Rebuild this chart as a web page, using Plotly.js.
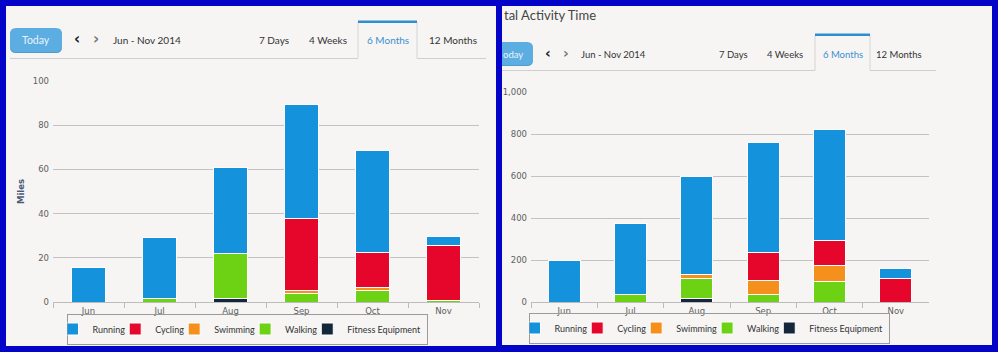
<!DOCTYPE html>
<html>
<head>
<meta charset="utf-8">
<script src="https://cdn.plot.ly/plotly-3.0.1.min.js"></script>
<style>html,body{margin:0;padding:0;background:#0404c8;}#chart{width:998px;height:352px;}</style>
</head>
<body>
<div id="chart"></div>
<script>
// ---- data ----
const months = ['Jun', 'Jul', 'Aug', 'Sep', 'Oct', 'Nov'];
const activities = ['Running', 'Cycling', 'Swimming', 'Walking', 'Fitness Equipment'];
// Left chart: distance (miles)
const milesRunning  = [15.6, 27.4, 38.5, 51.4, 46.0, 3.9];
const milesCycling  = [null, null, null, 32.4, 15.8, 24.7];
const milesSwimming = [null, null, null, 1.5, 1.3, null];
const milesWalking  = [null, 1.8, 20.4, 4.0, 5.5, 1.0];
const milesFitness  = [null, null, 1.8, null, null, null];
// Right chart: total activity time
const timeRunning  = [201, 335, 468, 527, 532, 45];
const timeCycling  = [null, null, null, 130, 120, 114];
const timeSwimming = [null, null, 22, 67, 72, null];
const timeWalking  = [null, 38, 92, 38, 101, null];
const timeFitness  = [null, null, 19, null, null, null];
// header texts
const rangeLabel = 'Jun - Nov 2014';
const tabLabels = ['7 Days', '4 Weeks', '6 Months', '12 Months'];
const yTitleLeft = 'Miles';
const panelTitleRight = 'tal Activity Time';

// ---- styles ----
const colors = {
  'Running': '#1592dc', 'Cycling': '#e6062b', 'Swimming': '#f4901b',
  'Walking': '#6dd214', 'Fitness Equipment': '#14263a'
};
const W = 998, H = 352;
const X = x => x / W;
const Y = y => 1 - y / H;
const panelBg = '#f6f5f3';
const uiFont = 'Lato';

const seriesLeft = {'Running': milesRunning, 'Cycling': milesCycling, 'Swimming': milesSwimming, 'Walking': milesWalking, 'Fitness Equipment': milesFitness};
const seriesRight = {'Running': timeRunning, 'Cycling': timeCycling, 'Swimming': timeSwimming, 'Walking': timeWalking, 'Fitness Equipment': timeFitness};

const stackOrder = activities.slice().reverse(); // bottom -> top
const traces = [];
stackOrder.forEach(name => {
  traces.push({type: 'bar', name: name, x: months, y: seriesLeft[name], xaxis: 'x', yaxis: 'y',
    legend: 'legend', legendgroup: 'L' + name,
    marker: {color: colors[name], line: {color: '#ffffff', width: 1}}, hoverinfo: 'skip'});
});
stackOrder.forEach(name => {
  traces.push({type: 'bar', name: name, x: months, y: seriesRight[name], xaxis: 'x2', yaxis: 'y2',
    legend: 'legend2', legendgroup: 'R' + name,
    marker: {color: colors[name], line: {color: '#ffffff', width: 1}}, hoverinfo: 'skip'});
});

const tickFont = {family: 'DejaVu Sans', size: 8.5, color: '#606060'};
const axisX = (dom) => ({domain: dom, type: 'category', showgrid: false, ticks: 'outside', tickson: 'boundaries',
  ticklen: 5, tickcolor: '#bcbcbc', showline: true, linecolor: '#bcbcbc', linewidth: 1, tickfont: tickFont,
  ticklabelstandoff: 0, fixedrange: true, automargin: false});

function rect(x0, y0, x1, y1, fill, layer) {
  return {type: 'rect', xref: 'paper', yref: 'paper', x0: X(x0), x1: X(x1), y0: Y(y1), y1: Y(y0),
    fillcolor: fill, line: {width: 0}, layer: layer || 'below'};
}
function line(x0, y0, x1, y1, color, width) {
  return {type: 'line', xref: 'paper', yref: 'paper', x0: X(x0), x1: X(x1), y0: Y(y0), y1: Y(y1),
    line: {color: color, width: width || 1}, layer: 'below'};
}
function roundRect(x0, y0, x1, y1, r, fill, squareLeft) {
  const p = [];
  if (squareLeft) {
    p.push('M' + X(x0) + ',' + Y(y0));
  } else {
    p.push('M' + X(x0 + r) + ',' + Y(y0));
  }
  p.push('L' + X(x1 - r) + ',' + Y(y0));
  p.push('Q' + X(x1) + ',' + Y(y0) + ' ' + X(x1) + ',' + Y(y0 + r));
  p.push('L' + X(x1) + ',' + Y(y1 - r));
  p.push('Q' + X(x1) + ',' + Y(y1) + ' ' + X(x1 - r) + ',' + Y(y1));
  if (squareLeft) {
    p.push('L' + X(x0) + ',' + Y(y1));
  } else {
    p.push('L' + X(x0 + r) + ',' + Y(y1));
    p.push('Q' + X(x0) + ',' + Y(y1) + ' ' + X(x0) + ',' + Y(y1 - r));
    p.push('L' + X(x0) + ',' + Y(y0 + r));
    p.push('Q' + X(x0) + ',' + Y(y0) + ' ' + X(x0 + r) + ',' + Y(y0));
  }
  p.push('Z');
  return {type: 'path', xref: 'paper', yref: 'paper', path: p.join(' '), fillcolor: fill, line: {width: 0}, layer: 'below'};
}
function txt(text, x, y, opts) {
  opts = opts || {};
  const font = {family: opts.family || uiFont, size: opts.size || 10, color: opts.color || '#333333'};
  if (opts.weight) font.weight = opts.weight;
  return {text: text, xref: 'paper', yref: 'paper', x: X(x), y: Y(y), showarrow: false,
    xanchor: opts.xanchor || 'center', yanchor: 'middle', font: font};
}

const shapes = [
  // panels
  rect(6, 6, 496, 346, panelBg),
  rect(502, 6, 992, 345, panelBg),
  // left header
  roundRect(10, 29, 62, 53, 6, '#4d9bcc'),
  roundRect(10, 28, 62, 52, 6, '#5cade1'),
  line(10, 58.5, 358, 58.5, '#cfcfcf'),
  line(417, 58.5, 486, 58.5, '#cfcfcf'),
  line(358, 22, 358, 58.5, '#d4d4d4'),
  line(417, 22, 417, 58.5, '#d4d4d4'),
  rect(358, 20.5, 417, 23, '#2e8ecf', 'above'),
  // right header
  roundRect(502, 43, 533, 66, 6, '#4d9bcc', true),
  roundRect(502, 42, 533, 65, 6, '#5cade1', true),
  line(502, 70.5, 815, 70.5, '#cfcfcf'),
  line(870, 70.5, 936, 70.5, '#cfcfcf'),
  line(815, 35, 815, 70.5, '#d4d4d4'),
  line(870, 35, 870, 70.5, '#d4d4d4'),
  rect(815, 33.5, 870, 36, '#2e8ecf', 'above')
];

const annotations = [
  txt('Today', 36, 40, {color: '#e9f4fc', size: 10.5}),
  txt('‹', 77, 39, {family: 'DejaVu Sans', size: 15, color: '#1d1d1d', weight: 'bold'}),
  txt('›', 96, 39, {family: 'DejaVu Sans', size: 15, color: '#7a7a7a', weight: 'bold'}),
  txt(rangeLabel, 111, 40, {xanchor: 'left'}),
  txt(tabLabels[0], 274, 40),
  txt(tabLabels[1], 328, 40),
  txt(tabLabels[2], 388, 40, {color: '#3b90d0'}),
  txt(tabLabels[3], 453, 40),
  txt(panelTitleRight, 502, 15, {xanchor: 'left', size: 13, color: '#454545'}),
  txt('oday', 501, 54, {xanchor: 'left', color: '#e9f4fc', size: 9.5}),
  txt('‹', 548, 53, {family: 'DejaVu Sans', size: 14, color: '#1d1d1d', weight: 'bold'}),
  txt('›', 566, 53, {family: 'DejaVu Sans', size: 14, color: '#7a7a7a', weight: 'bold'}),
  txt(rangeLabel, 579, 54, {xanchor: 'left', size: 9.5}),
  txt(tabLabels[0], 733, 54, {size: 9.5}),
  txt(tabLabels[1], 785, 54, {size: 9.5}),
  txt(tabLabels[2], 843, 54, {size: 9.5, color: '#3b90d0'}),
  txt(tabLabels[3], 899, 54, {size: 9.5})
];

const legendBase = {orientation: 'h', xanchor: 'center', yanchor: 'middle', bgcolor: 'rgba(0,0,0,0)',
  bordercolor: '#9a9a9a', borderwidth: 1, traceorder: 'reversed', itemclick: false, itemdoubleclick: false,
  font: {family: uiFont, size: 9, color: '#333333'}, indentation: -15, itemwidth: 30};

const layout = {
  width: W, height: H,
  margin: {l: 0, r: 0, t: 0, b: 0, pad: 0, autoexpand: false},
  paper_bgcolor: '#0404c8', plot_bgcolor: 'rgba(0,0,0,0)',
  barmode: 'stack', bargap: 0.52,
  showlegend: true,
  xaxis: axisX([53 / W, 479 / W]),
  yaxis: {domain: [1 - 302.3 / H, 1 - 80.7 / H], anchor: 'x', range: [0, 100], dtick: 20, tick0: 0,
    showgrid: true, gridcolor: '#c2c2c2', gridwidth: 1, zeroline: false, showline: false, ticks: '',
    tickfont: tickFont, ticklabelstandoff: 3, fixedrange: true, automargin: false,
    title: {text: yTitleLeft, standoff: 6, font: {family: 'DejaVu Sans', size: 8.5, color: '#4a5878', weight: 'bold'}}},
  xaxis2: Object.assign(axisX([531 / W, 929 / W]), {anchor: 'y2'}),
  yaxis2: {domain: [1 - 302.3 / H, 1 - 92.3 / H], anchor: 'x2', range: [0, 1000], dtick: 200, tick0: 0,
    tickformat: ',', showgrid: true, gridcolor: '#c2c2c2', gridwidth: 1, zeroline: false, showline: false, ticks: '',
    tickfont: tickFont, ticklabelstandoff: 3, fixedrange: true, automargin: false},
  legend: Object.assign({}, legendBase, {x: X(247), y: Y(329)}),
  legend2: Object.assign({}, legendBase, {x: X(709), y: Y(328)}),
  shapes: shapes,
  annotations: annotations,
  hovermode: false
};

Plotly.newPlot('chart', traces, layout, {displayModeBar: false, staticPlot: true});
</script>
</body>
</html>
